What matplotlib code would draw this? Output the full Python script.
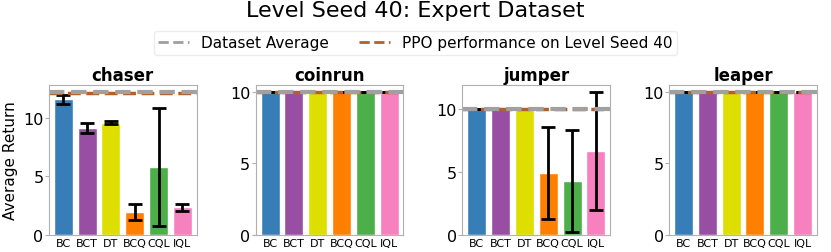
import numpy as np
import matplotlib
matplotlib.use('Agg')
import matplotlib.pyplot as plt
from matplotlib.lines import Line2D

games = ['chaser', 'coinrun', 'jumper', 'leaper']
algos = ['BC', 'BCT', 'DT', 'BCQ', 'CQL', 'IQL']
colors = ['#377eb8', '#984ea3', '#dede00', '#ff7f00', '#4daf4a', '#f781bf']

means = {
    'chaser': [11.55, 9.1, 9.57, 1.98, 5.8, 2.38],
    'coinrun': [10.0, 10.0, 10.0, 10.0, 10.0, 10.0],
    'jumper': [10.0, 10.0, 10.0, 4.92, 4.26, 6.67],
    'leaper': [10.0, 10.0, 10.0, 10.0, 10.0, 10.0],
}
errs = {
    'chaser': [0.4, 0.45, 0.15, 0.7, 5.0, 0.3],
    'coinrun': [0.0, 0.0, 0.0, 0.0, 0.0, 0.0],
    'jumper': [0.0, 0.0, 0.0, 3.67, 4.05, 4.68],
    'leaper': [0.0, 0.0, 0.0, 0.0, 0.0, 0.0],
}
dataset_avg = {'chaser': 12.2, 'coinrun': 10.0, 'jumper': 10.0, 'leaper': 10.0}
ppo_perf = {'chaser': 12.08, 'coinrun': 10.0, 'jumper': 10.0, 'leaper': 10.0}

fig, axes = plt.subplots(1, 4, figsize=(8.31, 2.53), dpi=100)
fig.subplots_adjust(left=0.059, right=0.983, top=0.662, bottom=0.067, wspace=0.4)

for ax, g in zip(axes, games):
    x = np.arange(len(algos))
    ax.bar(x, means[g], yerr=errs[g], color=colors, edgecolor='white', width=0.8,
           capsize=5, error_kw=dict(elinewidth=2, capthick=2, ecolor='black'))
    ax.axhline(ppo_perf[g], color='#b5602c', linestyle='--', linewidth=2.5)
    ax.axhline(dataset_avg[g], color='#a0a0a0', linestyle='--', linewidth=3)
    ax.set_title(g, fontsize=12, fontweight='bold', pad=3)
    ax.set_xticks(x)
    ax.set_xticklabels(algos, fontsize=8)
    ax.tick_params(axis='x', length=0, pad=2)
    ax.tick_params(axis='y', labelsize=11.5, pad=1, length=3, color='#b0b0b0')
    ax.set_yticks([0, 5, 10])
    for s in ax.spines.values():
        s.set_color('#b0b0b0')
    ax.set_xlim(-0.6, 5.6)
    ax.margins(y=0.05)

axes[0].set_ylabel('Average Return', fontsize=11)

handles = [Line2D([0], [0], color='#a0a0a0', linestyle='--', linewidth=2),
           Line2D([0], [0], color='#b5602c', linestyle='--', linewidth=2)]
fig.legend(handles, ['Dataset Average', 'PPO performance on Level Seed 40'],
           loc='upper center', bbox_to_anchor=(0.5, 0.905), ncol=2, fontsize=11,
           frameon=True, edgecolor='#e8e8e8', handlelength=2, columnspacing=2,
           borderpad=0.3)
fig.suptitle('Level Seed 40: Expert Dataset', fontsize=16, y=0.995)

fig.savefig('out.png', dpi=100)
